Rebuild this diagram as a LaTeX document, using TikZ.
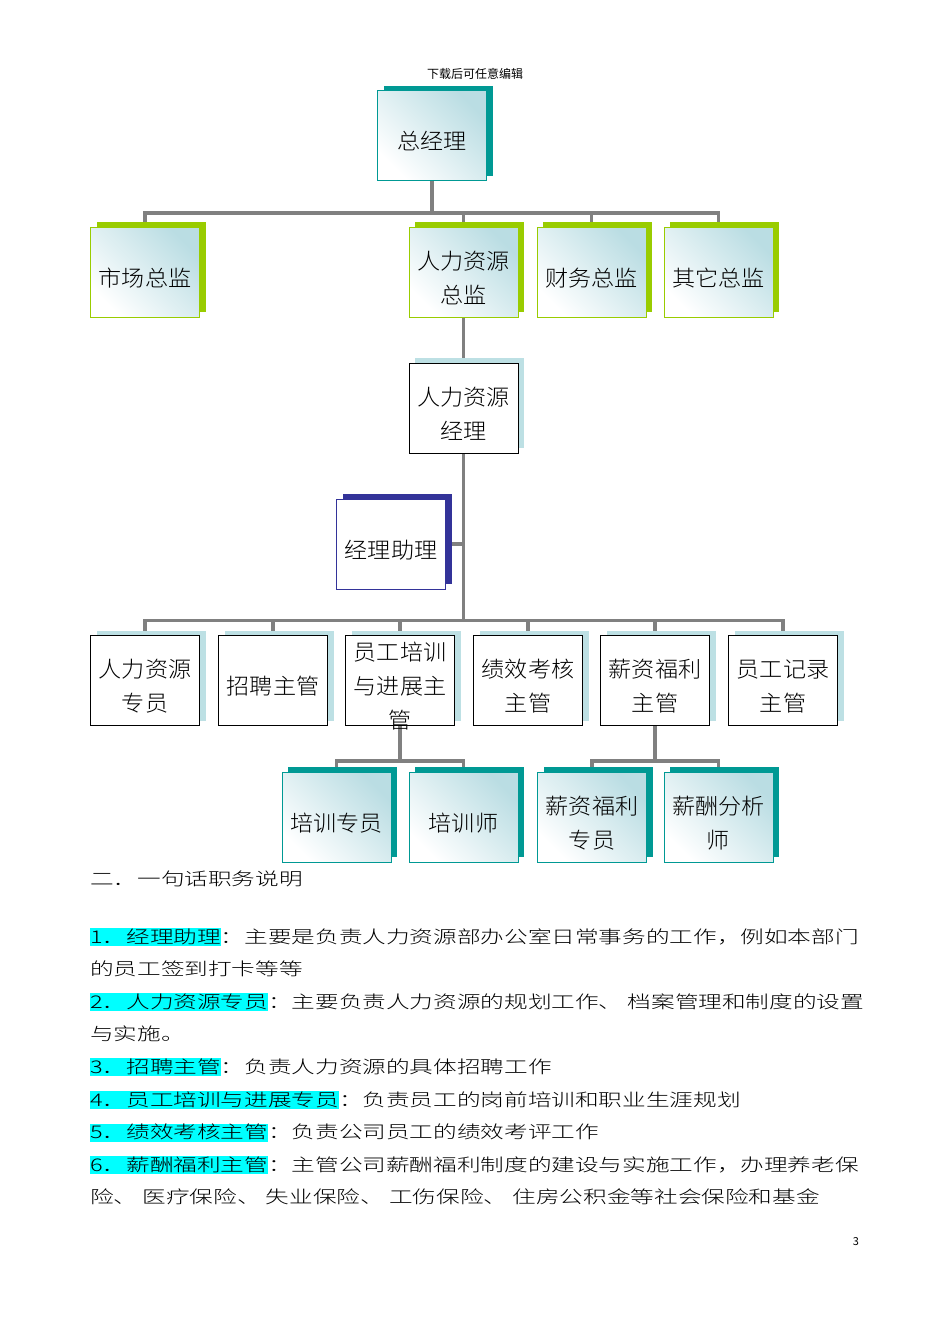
\documentclass[tikz,border=0pt]{standalone}
\usepackage{fontspec}
\usetikzlibrary{shadows,backgrounds}
\newfontfamily\cjk{Noto Sans CJK SC}
\IfFontExistsTF{Noto Sans CJK SC Light}{%
	\newfontfamily\boxfont[FakeStretch=1.05]{Noto Sans CJK SC Light}%
	\newfontfamily\bodyfont[FakeStretch=1.35]{Noto Sans CJK SC Light}}{%
	\newfontfamily\boxfont[FakeStretch=1.05]{Noto Sans CJK SC}%
	\newfontfamily\bodyfont[FakeStretch=1.35]{Noto Sans CJK SC}}
\definecolor{shteal}{RGB}{0,153,148}
\definecolor{shgreen}{RGB}{153,204,0}
\definecolor{shnavy}{RGB}{51,51,153}
\definecolor{shblue}{RGB}{189,224,228}
\definecolor{boxcyan}{RGB}{186,221,227}
\definecolor{linegray}{RGB}{128,128,128}
\definecolor{hlcyan}{RGB}{0,255,255}
\newcommand{\hl}[1]{{\setlength{\fboxsep}{0pt}\colorbox{hlcyan}{\rule[-3pt]{0pt}{18pt}#1}}}
\newcommand{\txtpad}{\rule{0pt}{30pt}} % pushes box text a bit lower

\begin{document}
\begin{tikzpicture}[x=1pt, y=-1pt,
		box/.style={rectangle, minimum width=109pt, minimum height=90pt, inner sep=0pt,
			align=center, line width=1pt, font=\boxfont\fontsize{22}{34}\selectfont},
		gradbox/.style={box, draw=#1, top color=boxcyan, bottom color=white, shading angle=-45,
			drop shadow={shadow xshift=6pt, shadow yshift=5pt, fill=#1, opacity=1}},
		plainbox/.style 2 args={box, draw=#1, fill=white,
			drop shadow={shadow xshift=6pt, shadow yshift=5pt, fill=#2, opacity=1}},
		conn/.style={draw=linegray, line width=3.4pt},
		bodytext/.style={anchor=base west, inner sep=0pt, font=\bodyfont\fontsize{17.5}{32.6}\selectfont}]
	\useasboundingbox (0,0) rectangle (950,1344);
	
	\def\rowA{272}   % Row of the directors
	\def\rowB{680.5} % Row of the supervisors
	\def\rowC{817}   % Row of the specialists
	\def\ystart{943} % Baseline of the first text line
	\def\ygap{32.6}  % Gap between text lines
	
	\node[font=\cjk\fontsize{12}{12}\selectfont] (hdr) at (475,74) {下载后可任意编辑};
	
	% Top of the chart
	\node[gradbox=shteal] (gm) at (432,135.5) {\txtpad 总经理};
	\foreach \name/\x/\txt in {mkt/145/市场总监, hrd/463.5/{人力资源\\总监},
		fin/591.5/财务总监, oth/718.5/其它总监} {
		\node[gradbox=shgreen] (\name) at (\x,\rowA) {\txtpad\txt};
	}
	
	\node[plainbox={black}{shblue}] (hrm) at (463.5,408) {\txtpad 人力资源\\经理};
	\node[plainbox={shnavy}{shnavy}] (asst) at (391,544) {\txtpad 经理助理};
	
	% Supervisors (the three-line text runs over its box)
	\foreach \name/\x/\ysep/\txt in {hrs/145/0pt/{人力资源\\专员}, rec/273/0pt/招聘主管,
		trn/400/-8pt/{员工培训\\与进展主\\管}, prf/528/0pt/{绩效考核\\主管},
		cmp/655/0pt/{薪资福利\\主管}, rcd/783/0pt/{员工记录\\主管}} {
		\node[plainbox={black}{shblue}, inner ysep=\ysep] (\name) at (\x,\rowB) {\txtpad\txt};
	}
	
	% Specialists
	\foreach \name/\x/\txt in {trs/336.5/培训专员, tnr/463.5/培训师,
		cms/592/{薪资福利\\专员}, cma/718.5/{薪酬分析\\师}} {
		\node[gradbox=shteal] (\name) at (\x,\rowC) {\txtpad\txt};
	}
	
	\begin{scope}[on background layer]
		\path (gm.south) ++(0,32) coordinate (bus1);
		\draw[conn] (gm.south) -- (bus1);
		\foreach \n in {mkt,hrd,fin,oth}
			\draw[conn] (bus1) -| (\n.north);
		\draw[conn] (hrd.south) -- (hrm.north);
		\path (hrm.south) ++(0,167) coordinate (bus2);
		\draw[conn] (hrm.south) -- (bus2);
		\draw[conn] (asst.east) -- (asst.east -| hrm.south);
		\foreach \n in {hrs,rec,trn,prf,cmp,rcd}
			\draw[conn] (bus2) -| (\n.north);
		\path (trn.south) ++(0,35) coordinate (bus3);
		\draw[conn] (trn.south) -- (bus3);
		\foreach \n in {trs,tnr}
			\draw[conn] (bus3) -| (\n.north);
		\path (cmp.south) ++(0,35) coordinate (bus4);
		\draw[conn] (cmp.south) -- (bus4);
		\foreach \n in {cms,cma}
			\draw[conn] (bus4) -| (\n.north);
	\end{scope}
	
	% Text below the chart
	\node[bodytext] (title) at (90,885) {二．一句话职务说明};
	\foreach \i/\txt in {1/{\hl{1．经理助理}：主要是负责人力资源部办公室日常事务的工作，例如本部门},
		2/{的员工签到打卡等等},
		3/{\hl{2．人力资源专员}：主要负责人力资源的规划工作、 档案管理和制度的设置},
		4/{与实施。},
		5/{\hl{3．招聘主管}：负责人力资源的具体招聘工作},
		6/{\hl{4．员工培训与进展专员}：负责员工的岗前培训和职业生涯规划},
		7/{\hl{5．绩效考核主管}：负责公司员工的绩效考评工作},
		8/{\hl{6．薪酬福利主管}：主管公司薪酬福利制度的建设与实施工作，办理养老保},
		9/{险、 医疗保险、 失业保险、 工伤保险、 住房公积金等社会保险和基金}} {
		\pgfmathsetmacro{\y}{\ystart + (\i-1) * \ygap}
		\node[bodytext] (line\i) at (90,\y) {\txt};
	}
	
	\node[font=\cjk\fontsize{11}{11}\selectfont] (pgnum) at (856,1242) {3};
\end{tikzpicture}
\end{document}
